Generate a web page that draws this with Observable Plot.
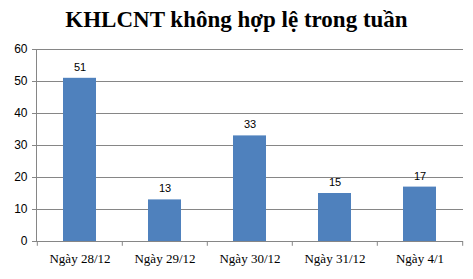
<!DOCTYPE html>
<html><head><meta charset="utf-8">
<script src="https://cdn.jsdelivr.net/npm/d3@7"></script>
<script src="https://cdn.jsdelivr.net/npm/@observablehq/plot@0.6"></script>
<style>
body{margin:0;background:#fff;}
#title{height:40px;line-height:40px;text-align:center;font-family:"Liberation Serif","Times New Roman",serif;font-weight:bold;font-size:23px;color:#000;width:473px;}
</style></head>
<body>
<div id="title">KHLCNT không hợp lệ trong tuần</div>
<div id="chart"></div>
<script>
const categories = ["Ngày 28/12","Ngày 29/12","Ngày 30/12","Ngày 31/12","Ngày 4/1"];
const values = [51,13,33,15,17];
const yTicks = [0,10,20,30,40,50,60];

const data = categories.map((c,i)=>({day:c, value:values[i]}));
const W = 473, ML = 36, MR = 10;
const step = (W - ML - MR) / categories.length;

const chart = Plot.plot({
  width: W, height: 239,
  marginTop: 9, marginBottom: 38, marginLeft: ML, marginRight: MR,
  style: {fontFamily: "'Liberation Sans', Arial, sans-serif", fontSize: "12px", color: "#000", background: "#fff"},
  x: {domain: categories, paddingInner: 0.61, paddingOuter: 0.305, label: null},
  y: {domain: [0,60], ticks: yTicks, label: null},
  marks: [
    Plot.gridY(yTicks, {stroke: "#868686", strokeOpacity: 1}),
    Plot.barY(data, {x: "day", y: "value", fill: "#4F81BD"}),
    Plot.ruleY([0], {stroke: "#868686"}),
    Plot.frame({anchor: "left", stroke: "#868686"}),
    Plot.axisY(yTicks, {tickSize: 4, stroke: "#868686", tickPadding: 5, fontSize: 12, fill: "#000"}),
    Plot.ruleX(categories, {x: d=>d, dx: -step/2, y1: 0, y2: -1.5, stroke: "#868686"}),
    Plot.ruleX(categories.slice(-1), {x: d=>d, dx: step/2, y1: 0, y2: -1.5, stroke: "#868686"}),
    Plot.axisX({tickSize: 0, tickPadding: 12, fontFamily: "'Liberation Serif','Times New Roman',serif", fontSize: 13, fill: "#000"}),
    Plot.text(data, {x: "day", y: "value", text: d=>String(d.value), dy: -11, fontSize: 11, fill: "#000"})
  ]
});
document.getElementById("chart").appendChild(chart);
</script>
</body></html>
